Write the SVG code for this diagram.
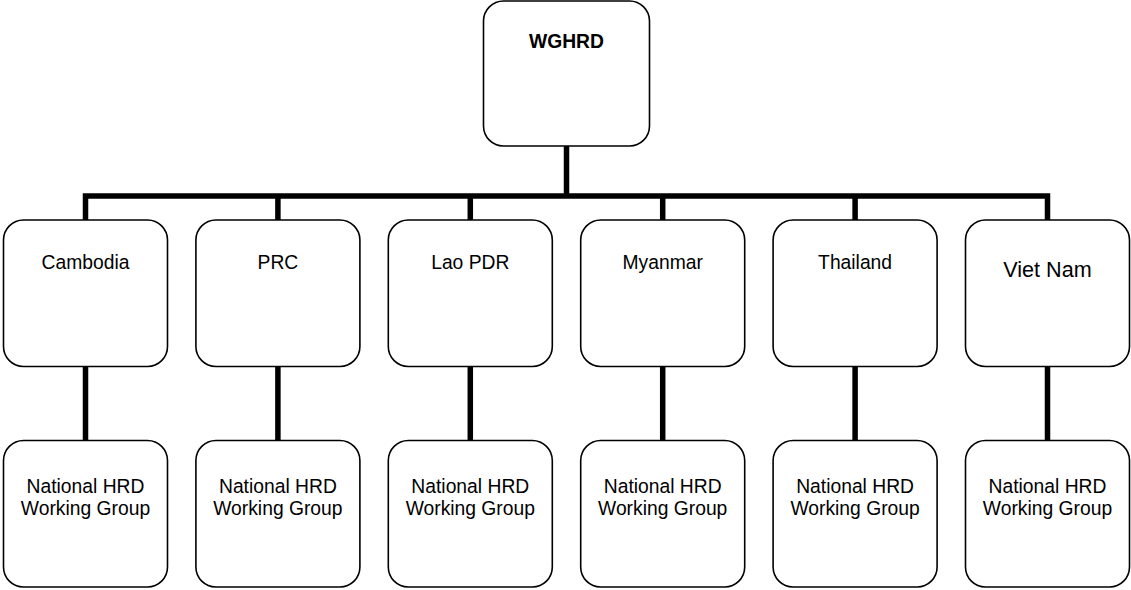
<svg xmlns="http://www.w3.org/2000/svg" width="1131" height="590" viewBox="0 0 1131 590">
<style>
  .box { fill: #fff; stroke: #000; stroke-width: 1.6; }
  .lbl { font-family: "Liberation Sans", Arial, sans-serif; font-size: 19.3px; fill: #000; text-anchor: middle; }
  .bold { font-weight: bold; }
  .big { font-size: 21.6px; }
  .conn { stroke: #000; stroke-width: 5.5; fill: none; stroke-linecap: butt; stroke-linejoin: miter; }
</style>
<rect width="1131" height="590" fill="#fff"/>
<g id="connectors">
  <path class="conn" d="M566.5,146 V196"/>
  <path class="conn" d="M85.5,220 V196 H1047.5 V220"/>
  <path class="conn" d="M277.9,196 V220 M470.3,196 V220 M662.7,196 V220 M855.1,196 V220"/>
  <path class="conn" d="M85.5,366 V441 M277.9,366 V441 M470.3,366 V441 M662.7,366 V441 M855.1,366 V441 M1047.5,366 V441"/>
</g>
<g id="wghrd">
  <rect class="box" x="483.5" y="1" width="166" height="145" rx="20"/>
  <text class="lbl bold" x="566.5" y="48">WGHRD</text>
</g>
<g id="cambodia">
  <rect class="box" x="3.5" y="220" width="164" height="146.5" rx="20"/>
  <text class="lbl" x="85.5" y="269">Cambodia</text>
</g>
<g id="prc">
  <rect class="box" x="195.9" y="220" width="164" height="146.5" rx="20"/>
  <text class="lbl" x="277.9" y="269">PRC</text>
</g>
<g id="laopdr">
  <rect class="box" x="388.3" y="220" width="164" height="146.5" rx="20"/>
  <text class="lbl" x="470.3" y="269">Lao PDR</text>
</g>
<g id="myanmar">
  <rect class="box" x="580.7" y="220" width="164" height="146.5" rx="20"/>
  <text class="lbl" x="662.7" y="269">Myanmar</text>
</g>
<g id="thailand">
  <rect class="box" x="773.1" y="220" width="164" height="146.5" rx="20"/>
  <text class="lbl" x="855.1" y="269">Thailand</text>
</g>
<g id="vietnam">
  <rect class="box" x="965.5" y="220" width="164" height="146.5" rx="20"/>
  <text class="lbl big" x="1047.5" y="277">Viet Nam</text>
</g>
<g id="nhrd-cambodia">
  <rect class="box" x="3.5" y="440.5" width="164" height="146.5" rx="20"/>
  <text class="lbl" x="85.5" y="493">National HRD</text>
  <text class="lbl" x="85.5" y="515">Working Group</text>
</g>
<g id="nhrd-prc">
  <rect class="box" x="195.9" y="440.5" width="164" height="146.5" rx="20"/>
  <text class="lbl" x="277.9" y="493">National HRD</text>
  <text class="lbl" x="277.9" y="515">Working Group</text>
</g>
<g id="nhrd-lao">
  <rect class="box" x="388.3" y="440.5" width="164" height="146.5" rx="20"/>
  <text class="lbl" x="470.3" y="493">National HRD</text>
  <text class="lbl" x="470.3" y="515">Working Group</text>
</g>
<g id="nhrd-myanmar">
  <rect class="box" x="580.7" y="440.5" width="164" height="146.5" rx="20"/>
  <text class="lbl" x="662.7" y="493">National HRD</text>
  <text class="lbl" x="662.7" y="515">Working Group</text>
</g>
<g id="nhrd-thailand">
  <rect class="box" x="773.1" y="440.5" width="164" height="146.5" rx="20"/>
  <text class="lbl" x="855.1" y="493">National HRD</text>
  <text class="lbl" x="855.1" y="515">Working Group</text>
</g>
<g id="nhrd-vietnam">
  <rect class="box" x="965.5" y="440.5" width="164" height="146.5" rx="20"/>
  <text class="lbl" x="1047.5" y="493">National HRD</text>
  <text class="lbl" x="1047.5" y="515">Working Group</text>
</g>
</svg>
